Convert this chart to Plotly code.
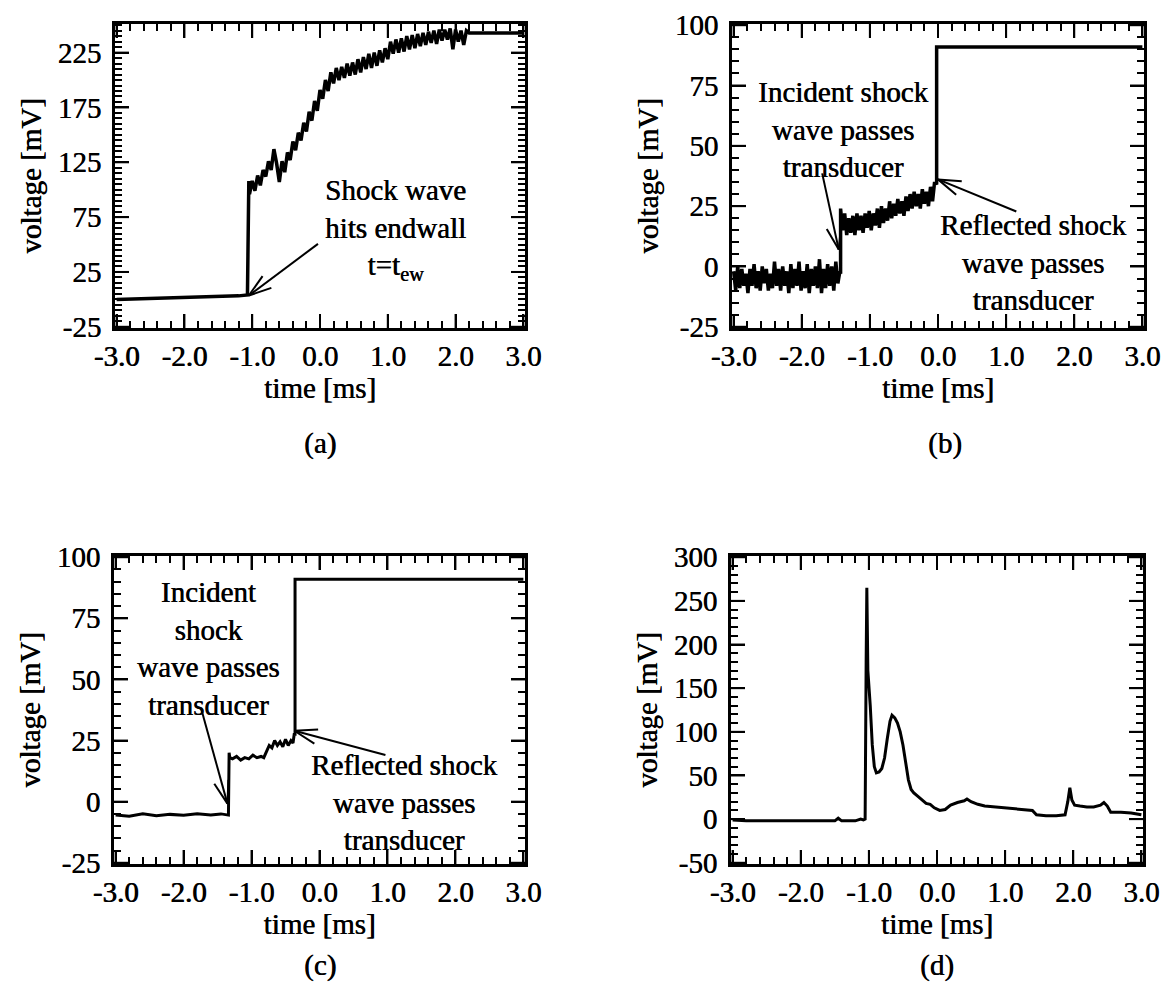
import math
import plotly.graph_objects as go

# ---------------- data ----------------
# common axis ticks
time_ticks = [-3, -2, -1, 0, 1, 2, 3]
time_tick_text = ["-3.0", "-2.0", "-1.0", "0.0", "1.0", "2.0", "3.0"]
a_yticks = [-25, 25, 75, 125, 175, 225]
bc_yticks = [-25, 0, 25, 50, 75, 100]
d_yticks = [-50, 0, 50, 100, 150, 200, 250, 300]

# (a) endwall transducer
a_pre_t = [-3.0, -2.5, -2.0, -1.5, -1.2, -1.07, -1.06, -1.05]
a_pre_v = [0.0, 0.8, 1.2, 2.3, 3.2, 4.0, 100.0, 108.0]
a_noise_t = [-1.04, -1.00, -0.96, -0.92, -0.88, -0.84, -0.80, -0.76, -0.72, -0.68,
             -0.64, -0.60, -0.56, -0.52, -0.48, -0.44, -0.40, -0.36, -0.32, -0.28,
             -0.24, -0.20, -0.16, -0.12, -0.08, -0.04, 0.00, 0.04, 0.08, 0.12,
             0.16, 0.20, 0.24, 0.28, 0.32, 0.36, 0.40, 0.44, 0.48, 0.52,
             0.56, 0.60, 0.64, 0.68, 0.72, 0.76, 0.80, 0.84, 0.88, 0.92,
             0.96, 1.00, 1.04, 1.08, 1.12, 1.16, 1.20, 1.24, 1.28, 1.32,
             1.36, 1.40, 1.44, 1.48, 1.52, 1.56, 1.60, 1.64, 1.68, 1.72,
             1.76, 1.80, 1.84, 1.88, 1.92, 1.96, 2.00, 2.04, 2.08, 2.12,
             2.16, 2.20]
a_noise_v = [96, 108, 99, 113, 104, 118, 112, 126, 118, 137,
             124, 107, 126, 116, 134, 127, 144, 136, 152, 145,
             161, 153, 171, 163, 181, 172, 191, 183, 200, 190,
             207, 197, 211, 200, 212, 202, 215, 204, 216, 205,
             219, 207, 221, 210, 224, 211, 225, 213, 227, 216,
             229, 219, 235, 224, 237, 225, 238, 226, 240, 228,
             241, 229, 242, 231, 243, 232, 244, 234, 245, 233,
             246, 236, 246, 237, 247, 228, 246, 235, 245, 232,
             245, 243]
a_post_t = [2.24, 3.0]
a_post_v = [243, 243]

# (b) side-wall transducer, noisy
b_pre_t = [-3.00, -2.97, -2.94, -2.91, -2.88, -2.85, -2.82, -2.79, -2.76, -2.73,
           -2.70, -2.67, -2.64, -2.61, -2.58, -2.55, -2.52, -2.49, -2.46, -2.43,
           -2.40, -2.37, -2.34, -2.31, -2.28, -2.25, -2.22, -2.19, -2.16, -2.13,
           -2.10, -2.07, -2.04, -2.01, -1.98, -1.95, -1.92, -1.89, -1.86, -1.83,
           -1.80, -1.77, -1.74, -1.71, -1.68, -1.65, -1.62, -1.59, -1.56, -1.53,
           -1.50, -1.47, -1.44]
b_pre_v = [-2, -10, 0, -9, -1, -8, -3, -11, -1, -8,
           1, -9, -2, -10, 0, -7, -1, -10, -3, -9,
           2, -8, -1, -10, 0, -8, -2, -11, 1, -9,
           -1, -8, 2, -10, -2, -9, 1, -11, -1, -8,
           0, -9, 3, -11, -1, -9, 1, -8, 0, -10,
           2, -7, -2]
b_mid_t = [-1.43, -1.43,
           -1.40, -1.37, -1.34, -1.31, -1.28, -1.25, -1.22, -1.19, -1.16, -1.13,
           -1.10, -1.07, -1.04, -1.01, -0.98, -0.95, -0.92, -0.89, -0.86, -0.83,
           -0.80, -0.77, -0.74, -0.71, -0.68, -0.65, -0.62, -0.59, -0.56, -0.53,
           -0.50, -0.47, -0.44, -0.41, -0.38, -0.35, -0.32, -0.29, -0.26, -0.23,
           -0.20, -0.17, -0.14, -0.11, -0.08, -0.05, -0.02]
b_mid_v = [-3, 24,
           15, 22, 13, 20, 14, 21, 13, 22, 15, 21,
           14, 22, 16, 23, 15, 22, 17, 24, 16, 25,
           18, 24, 19, 27, 20, 26, 21, 28, 22, 27,
           21, 29, 23, 30, 24, 31, 25, 30, 24, 32,
           26, 31, 25, 33, 27, 35, 34]
b_post_t = [-0.02, 3.0]
b_post_v = [91, 91]

# (c) side-wall transducer, clean
c_time = [-3.0, -2.8, -2.6, -2.4, -2.2, -2.0, -1.8, -1.6, -1.45, -1.34,
          -1.33, -1.32, -1.28, -1.22, -1.16, -1.10, -1.04, -0.98, -0.92, -0.86,
          -0.82, -0.78, -0.74, -0.70, -0.66, -0.62, -0.58, -0.54, -0.50, -0.46,
          -0.42, -0.39, -0.37, -0.36, -0.36, 3.0]
c_volt = [-5.5, -6.0, -5.0, -5.8, -5.2, -5.6, -4.9, -5.5, -5.0, -5.5,
          20, 18, 17.5, 18.5, 17, 18, 17.5, 19, 18, 18.5,
          18, 20.5, 23, 22, 25, 23, 24.5, 22.5, 25.5, 23,
          25, 24, 28, 27, 91, 91]

# (d) other gauge
d_time = [-3.0, -2.8, -2.5, -2.0, -1.5, -1.45, -1.4, -1.2, -1.12, -1.08,
          -1.055, -1.04, -1.03, -1.015, -1.0, -0.98, -0.95, -0.92, -0.89, -0.85,
          -0.81, -0.77, -0.73, -0.69, -0.66, -0.62, -0.58, -0.54, -0.50, -0.46,
          -0.42, -0.38, -0.34, -0.28, -0.22, -0.16, -0.10, -0.04, 0.04, 0.12,
          0.20, 0.30, 0.40, 0.44, 0.50, 0.60, 0.70, 0.84, 1.0, 1.1,
          1.25, 1.4, 1.46, 1.6, 1.75, 1.88, 1.92, 1.95, 1.98, 2.02,
          2.1, 2.2, 2.3, 2.4, 2.45, 2.5, 2.55, 2.7, 2.85, 3.0]
d_volt = [-1, -2, -2, -2, -2, 1, -2, -2, 0, -1,
          0, 180, 265, 170, 145, 130, 85, 60, 53, 54,
          58, 70, 92, 112, 119, 116, 110, 100, 85, 65,
          45, 34, 30, 26, 22, 18, 17, 13, 10, 11,
          16, 19, 21, 23, 20, 17, 15, 14, 13, 12,
          11, 10, 5, 4, 4, 5, 20, 36, 22, 16,
          15, 14, 14, 16, 19, 15, 8, 8, 7, 5]

# ---------------- layout geometry ----------------
OFF = 8                      # the page body adds an 8 px margin
W, H = 1172 - OFF, 986 - OFF
FONT = "Liberation Serif"
FS = 29
SHADOW = "0.6px 0px 0px black"
def fnt(size=FS):
    return dict(family=FONT, size=size, color="black", shadow=SHADOW)

panels = {
    "a": dict(x=(115, 525), y=(24, 328), yr=(-25, 250)),
    "b": dict(x=(732, 1144), y=(24, 328), yr=(-25, 100)),
    "c": dict(x=(114, 525), y=(556, 864), yr=(-25, 100)),
    "d": dict(x=(731, 1143), y=(556, 864), yr=(-50, 300)),
}
axis_ids = {"a": "", "b": "2", "c": "3", "d": "4"}
XR = (-3, 3)
yticks = {"a": (a_yticks, 5), "b": (bc_yticks, 5), "c": (bc_yticks, 5), "d": (d_yticks, 10)}
EPS = 0.004

fig = go.Figure()

def add_trace(key, t, v, width=2.5):
    n = axis_ids[key]
    fig.add_trace(go.Scatter(x=t, y=v, mode="lines",
                             line=dict(color="black", width=width),
                             xaxis="x" + n, yaxis="y" + n,
                             showlegend=False, hoverinfo="skip"))

add_trace("a", a_pre_t + a_noise_t + a_post_t, a_pre_v + a_noise_v + a_post_v, width=3.5)
add_trace("b", b_pre_t + b_mid_t + b_post_t, b_pre_v + b_mid_v + b_post_v, width=3.5)
add_trace("c", c_time, c_volt, width=3)
add_trace("d", d_time, d_volt, width=3)

layout = dict(template="none", width=W, height=H, margin=dict(l=0, r=0, t=0, b=0),
              paper_bgcolor="white", plot_bgcolor="white",
              font=fnt(), showlegend=False)

shapes = []
TICK = dict(color="black", width=2)

for key, p in panels.items():
    n = axis_ids[key]
    x0, x1 = p["x"][0] - OFF, p["x"][1] - OFF
    y0, y1 = p["y"][0] - OFF, p["y"][1] - OFF
    xd = [x0 / W, x1 / W]
    yd = [1 - y1 / H, 1 - y0 / H]
    tv, mdt = yticks[key]
    yspan = p["yr"][1] - p["yr"][0]
    base = dict(showline=True, linecolor="black", linewidth=3, mirror="ticks",
                ticks="inside", ticklen=14, tickwidth=2, tickcolor="black",
                showgrid=False, zeroline=False, automargin=False,
                ticklabeloverflow="allow", tickfont=fnt())
    layout["xaxis" + n] = dict(base, domain=xd, range=[XR[0] - 6 * EPS, XR[1] + 6 * EPS],
                               anchor="y" + n, tickmode="array",
                               tickvals=time_ticks, ticktext=time_tick_text,
                               minor=dict(dtick=0.2, tick0=-3, ticks="inside", ticklen=7,
                                          tickwidth=2, tickcolor="black", showgrid=False),
                               title=dict(text="time [ms]", standoff=4, font=fnt()))
    layout["yaxis" + n] = dict(base, domain=yd,
                               range=[p["yr"][0] - yspan * EPS, p["yr"][1] + yspan * EPS],
                               anchor="x" + n, tickmode="array",
                               tickvals=tv, ticktext=[str(v) for v in tv],
                               ticklabelstandoff=5,
                               minor=dict(dtick=mdt, tick0=p["yr"][0], ticks="inside", ticklen=7,
                                          tickwidth=2, tickcolor="black", showgrid=False),
                               title=dict(text="voltage [mV]", standoff=8, font=fnt()))
    # long (major) tick marks on all four sides, drawn at the tick values
    for t in time_ticks:
        for anc, sgn in ((0, 1), (1, -1)):
            shapes.append(dict(type="line", xref="x" + n, yref="y" + n + " domain",
                               ysizemode="pixel", yanchor=anc, x0=t, x1=t, y0=0, y1=sgn * 14,
                               line=TICK))
    for v in tv:
        for anc, sgn in ((0, 1), (1, -1)):
            shapes.append(dict(type="line", yref="y" + n, xref="x" + n + " domain",
                               xsizemode="pixel", xanchor=anc, y0=v, y1=v, x0=0, x1=sgn * 14,
                               line=TICK))

fig.update_layout(**layout)

# ---------------- annotations & arrows ----------------
def scale(key):
    p = panels[key]
    sx = (p["x"][1] - p["x"][0]) / (XR[1] - XR[0])
    sy = (p["y"][1] - p["y"][0]) / (p["yr"][1] - p["yr"][0])
    return sx, sy

def arrow(key, tail, head, L=24, ang=18):
    n = axis_ids[key]
    xr, yr = "x" + n, "y" + n
    line = dict(color="black", width=2)
    shapes.append(dict(type="line", xref=xr, yref=yr, x0=tail[0], y0=tail[1],
                       x1=head[0], y1=head[1], line=line))
    sx, sy = scale(key)
    dx = (tail[0] - head[0]) * sx
    dy = (tail[1] - head[1]) * sy
    a = math.atan2(dy, dx)
    for s in (-1, 1):
        b = a + s * math.radians(ang)
        bx = head[0] + L * math.cos(b) / sx
        by = head[1] + L * math.sin(b) / sy
        shapes.append(dict(type="line", xref=xr, yref=yr, x0=head[0], y0=head[1],
                           x1=bx, y1=by, line=line))

def label(key, x, y, text):
    n = axis_ids[key]
    fig.add_annotation(x=x, y=y, xref="x" + n, yref="y" + n, text=text,
                       showarrow=False, align="center", font=fnt())

# (a)
label("a", 1.11, 64, "Shock wave<br>hits endwall<br>t=t<sub>ew</sub>")
arrow("a", (-0.03, 50.6), (-1.05, 3.5))
# (b)
label("b", -1.40, 56.8, "Incident shock<br>wave passes<br>transducer")
arrow("b", (-1.70, 38.6), (-1.457, 7))
label("b", 1.40, 1.7, "Reflected shock<br>wave passes<br>transducer")
arrow("b", (1.15, 22.8), (0.0, 36.1))
# (c)
label("c", -1.63, 62.6, "Incident<br>shock<br>wave passes<br>transducer")
arrow("c", (-1.744, 38.3), (-1.355, -0.8))
label("c", 1.25, -0.3, "Reflected shock<br>wave passes<br>transducer")
arrow("c", (0.97, 19.1), (-0.37, 29.0))

# panel captions
for txt, cx, cy in [("(a)", 320, 443), ("(b)", 945, 443), ("(c)", 320, 965), ("(d)", 937, 965)]:
    fig.add_annotation(x=(cx - OFF) / W, y=1 - (cy - OFF) / H, xref="paper", yref="paper",
                       text=txt, showarrow=False, xanchor="center", yanchor="middle",
                       font=fnt())

fig.update_layout(shapes=shapes)
fig.write_html("out.html")
